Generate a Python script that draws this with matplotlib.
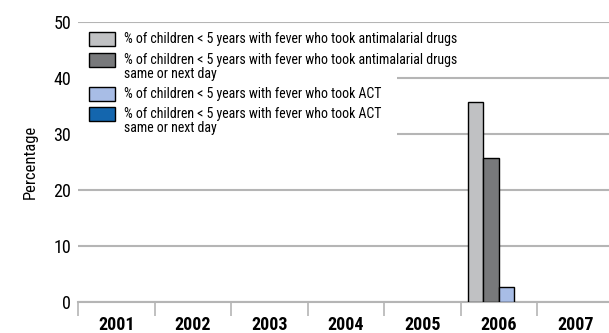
import matplotlib
matplotlib.use("Agg")
import matplotlib.pyplot as plt
from matplotlib import font_manager
import matplotlib.patches as patches
import numpy as np

years = ["2001", "2002", "2003", "2004", "2005", "2006", "2007"]
series_labels = [
    ["% of children < 5 years with fever who took antimalarial drugs"],
    ["% of children < 5 years with fever who took antimalarial drugs", "same or next day"],
    ["% of children < 5 years with fever who took ACT"],
    ["% of children < 5 years with fever who took ACT", "same or next day"],
]
antimalarial = [np.nan, np.nan, np.nan, np.nan, np.nan, 35.7, np.nan]
antimalarial_sameday = [np.nan, np.nan, np.nan, np.nan, np.nan, 25.7, np.nan]
act = [np.nan, np.nan, np.nan, np.nan, np.nan, 2.8, np.nan]
act_sameday = [np.nan, np.nan, np.nan, np.nan, np.nan, np.nan, np.nan]
colours = ["#c0c1c3", "#78797b", "#a8bde6", "#1466ae"]


def weight_num(w):
    if isinstance(w, (int, float)):
        return w
    return {"bold": 700, "semibold": 600, "demibold": 600, "heavy": 800,
            "black": 900, "extra bold": 800}.get(str(w).lower(), 400)


# the reference uses a condensed grotesque, so look for a narrow face with a bold cut
fonts = font_manager.fontManager.ttflist
weights = {}
for f in fonts:
    if "Condensed" in f.name or "Narrow" in f.name:
        weights.setdefault(f.name, set()).add(weight_num(f.weight))
preferred = ["Roboto Condensed", "Open Sans Condensed", "Noto Sans Condensed",
             "DejaVu Sans Condensed", "Liberation Sans Narrow"]
with_bold = [n for n in weights if max(weights[n]) >= 600 and min(weights[n]) <= 500]
font = None
for name in preferred:
    if name in with_bold:
        font = name
        break
if font is None and with_bold:
    font = sorted(with_bold)[0]
if font is None and weights:
    font = sorted(weights)[0]
if font is None:
    font = "Liberation Sans"
plt.rcParams["font.family"] = [font, "DejaVu Sans"]

fig = plt.figure(figsize=(6.09, 3.33), dpi=100)
ax = fig.add_axes([78 / 609, 1 - 302.3 / 333, 535.5 / 609, 280 / 333])


def fit_size(text, px):
    # size that gives the text the pixel width measured on the reference
    probe = fig.text(0, 0, text, fontsize=10)
    box = probe.get_window_extent(renderer=fig.canvas.get_renderer())
    probe.remove()
    return 10 * px / box.width


legend_size = fit_size(series_labels[0][0], 334)

x = np.arange(len(years))
width = 0.2
all_series = [antimalarial, antimalarial_sameday, act, act_sameday]
for i, values in enumerate(all_series):
    ax.bar(x + (i - 1.5) * width, values, width, color=colours[i],
           edgecolor="black", linewidth=1, zorder=3)

ax.set_xlim(-0.5, len(years) - 0.5)
ax.set_ylim(0, 50)
ax.set_yticks([0, 10, 20, 30, 40, 50])
ax.grid(axis="y", color="#b5b5b5", linewidth=1.5)
ax.set_axisbelow(True)
for side in ["top", "right", "left"]:
    ax.spines[side].set_visible(False)
ax.spines["bottom"].set_color("#b5b5b5")
ax.spines["bottom"].set_linewidth(1.5)

ax.set_xticks(x)
ax.set_xticklabels(years, fontweight="bold", fontsize=13)
ax.set_xticks(np.arange(-0.5, len(years)), minor=True)
ax.tick_params(axis="x", which="major", length=0, pad=10)
ax.tick_params(axis="x", which="minor", length=10, width=1.2, color="#b5b5b5")
ax.tick_params(axis="y", length=0, pad=5, labelsize=13)
ax.set_ylabel("Percentage", fontsize=12)
ax.yaxis.set_label_coords((38 - 78) / 535.5, 0.5)

# legend drawn by hand so the swatch sits on the first line of each label
def ax_x(px):
    return (px - 78) / 535.5

def ax_y(py):
    return (302.3 - py) / 280

ax.add_patch(patches.Rectangle((0, ax_y(140)), ax_x(397), ax_y(28) - ax_y(140),
                               transform=ax.transAxes, facecolor="white",
                               edgecolor="none", zorder=2))
rows = [39.5, 60, 94.5, 114]
for i, row in enumerate(rows):
    ax.add_patch(patches.Rectangle((ax_x(89), ax_y(row + 7)), ax_x(115) - ax_x(89),
                                   ax_y(row - 7) - ax_y(row + 7), transform=ax.transAxes,
                                   facecolor=colours[i], edgecolor="black",
                                   linewidth=1, zorder=4))
    for j, line in enumerate(series_labels[i]):
        ax.text(ax_x(124), ax_y(row + 14.5 * j), line, transform=ax.transAxes,
                fontsize=legend_size, va="center", ha="left", zorder=4)

fig.savefig("out.png", dpi=100)
